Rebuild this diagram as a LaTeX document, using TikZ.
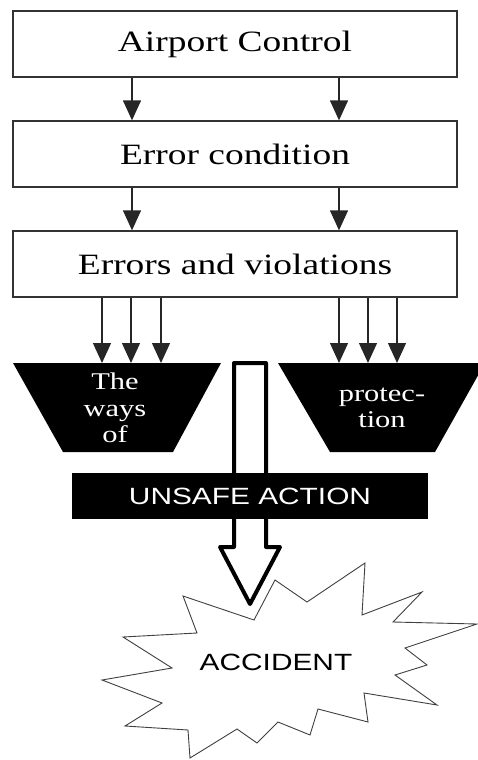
\documentclass[tikz,border=0pt]{standalone}
\usepackage{fontspec}
\setmainfont{Liberation Serif}
\setsansfont{Liberation Sans}
\usetikzlibrary{arrows.meta,calc}
\begin{document}
\begin{tikzpicture}[x=1pt,y=-1pt,
  box/.style={draw=black!80,line width=1.3pt,fill=white,minimum width=444pt,minimum height=66pt,inner sep=0pt,
    font=\fontsize{29.5}{32}\selectfont,xscale=1},
  boxtext/.style={font=\fontsize{29.5}{32}\selectfont,xscale=1.27,inner sep=0pt},
  arr/.style={draw=black!85,line width=1.3pt,-{Triangle[length=20pt,width=18pt]}},
  trap/.style={fill=black},
  traptext/.style={text=white,align=center,font=\fontsize{24}{26.5}\selectfont,xscale=1.27,inner sep=0pt},
  startext/.style={font=\sffamily\fontsize{23.5}{26}\selectfont,xscale=1.27,inner sep=0pt},
  bar/.style={fill=black,minimum width=356pt,minimum height=46pt,inner sep=0pt},
  bartext/.style={text=white,font=\sffamily\fontsize{23.5}{26}\selectfont,xscale=1.27,inner sep=0pt},
  star/.style={draw=black!75,line width=0.9pt,fill=white},
  hollow/.style={draw=black,line width=4pt,fill=white,line join=round}]
\useasboundingbox (0,0) rectangle (477,760);
% boxes
\node[box] (b1) at (235,44) {};
\node[boxtext] (t1) at (235,44) {Airport Control};
\node[box] (b2) at (235,154) {};
\node[boxtext] (t2) at (235,154) {Error condition};
\node[box] (b3) at (235,264) {};
\node[boxtext] (t3) at (235,264) {Errors and violations};
% columns
\coordinate (cL) at (132,0);
\coordinate (cR) at (339,0);
\coordinate (l1) at (102,0);
\coordinate (l2) at (131,0);
\coordinate (l3) at (161,0);
\coordinate (r1) at (339,0);
\coordinate (r2) at (368,0);
\coordinate (r3) at (397,0);
\draw[arr] (cL |- b1.south) -- (cL |- b2.north);
\draw[arr] (cR |- b1.south) -- (cR |- b2.north);
\draw[arr] (cL |- b2.south) -- (cL |- b3.north);
\draw[arr] (cR |- b2.south) -- (cR |- b3.north);
% trapezoids
\coordinate (tl) at (0,363);
\foreach \c in {l1,l2,l3,r1,r2,r3}
  \draw[arr] (\c |- b3.south) -- (\c |- tl);
\fill[trap] (13,363) -- (221,363) -- (173,452) -- (63,452) -- cycle;
\fill[trap] (278,363) -- (485,363) -- (435,452) -- (330,452) -- cycle;
\node[traptext] (wt) at (115,408) {The\\ways\\of};
\node[traptext] (pt) at (382,408) {protec-\\tion};
% star
\draw[star] (254,620) -- (275,580) -- (307,602) -- (365,563) -- (362,615) -- (422,592) -- (393,622) -- (477,624) -- (405,648) -- (427,665) -- (395,675) -- (437,705) -- (364,693) -- (368,722) -- (318,709) -- (310,735) -- (278,722) -- (257,743) -- (237,729) -- (190,758) -- (188,730) -- (125,726) -- (162,703) -- (102,680) -- (172,668) -- (123,637) -- (197,633) -- (183,596) -- cycle;
\node[startext] (acc) at (276,662) {ACCIDENT};
% hollow arrow
\draw[hollow] (234,363) -- (266,363) -- (266,547) -- (280,547) -- (250,604) -- (220,547) -- (234,547) -- cycle;
% unsafe action bar
\node[bar] (ua) at (250,496) {};
\node[bartext] at (ua) {UNSAFE ACTION};
\end{tikzpicture}
\end{document}
